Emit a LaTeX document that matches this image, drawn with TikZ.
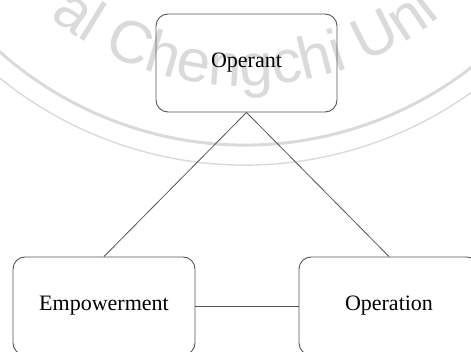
\documentclass[tikz,border=0pt]{standalone}
\usepackage{fontspec}
\setmainfont{Liberation Serif}
\newfontfamily\sealfont{Liberation Sans}
\usetikzlibrary{decorations.text}
\definecolor{sealgray}{RGB}{218,218,218}
\definecolor{edgegray}{RGB}{85,85,85}
\tikzset{
  box/.style={draw=edgegray, line width=0.9pt, rounded corners=12pt,
    minimum width=182pt, minimum height=98pt, inner sep=0pt,
    font=\fontsize{22}{26}\selectfont},
  link/.style={draw=edgegray, line width=0.8pt},
  sealring/.style={draw=sealgray},
}
\begin{document}
\begin{tikzpicture}[x=1pt,y=1pt]
  \useasboundingbox (0,0) rectangle (471,351);
  \clip (0,0) rectangle (471,351);
  % seal in the background: two rings and the lettering
  \coordinate (sealc) at (245,575);
  \draw[sealring, line width=3pt] (sealc) ++(200:369) arc[start angle=200, end angle=340, radius=369];
  \draw[sealring, line width=1.4pt] (sealc) ++(200:389) arc[start angle=200, end angle=340, radius=389];
  \path[decorate, decoration={text along path, text align=left,
      text={|\sealfont\fontsize{60}{60}\selectfont\color{sealgray}|al Chengchi Uni}}]
    (sealc) ++(231:310) arc[start angle=231, end angle=335, radius=310];
  % boxes
  \node[box, minimum width=181pt] (operant) at (246.5,288) {Operant};
  \node[box] (empower) at (104,45) {Empowerment};
  \node[box, minimum width=180pt] (operation) at (389,45) {Operation};
  % connectors
  \draw[link] (operant.south) -- (empower.north);
  \draw[link] (operant.south) -- (operation.north);
  \draw[link] (empower.east) -- (operation.west);
\end{tikzpicture}
\end{document}
